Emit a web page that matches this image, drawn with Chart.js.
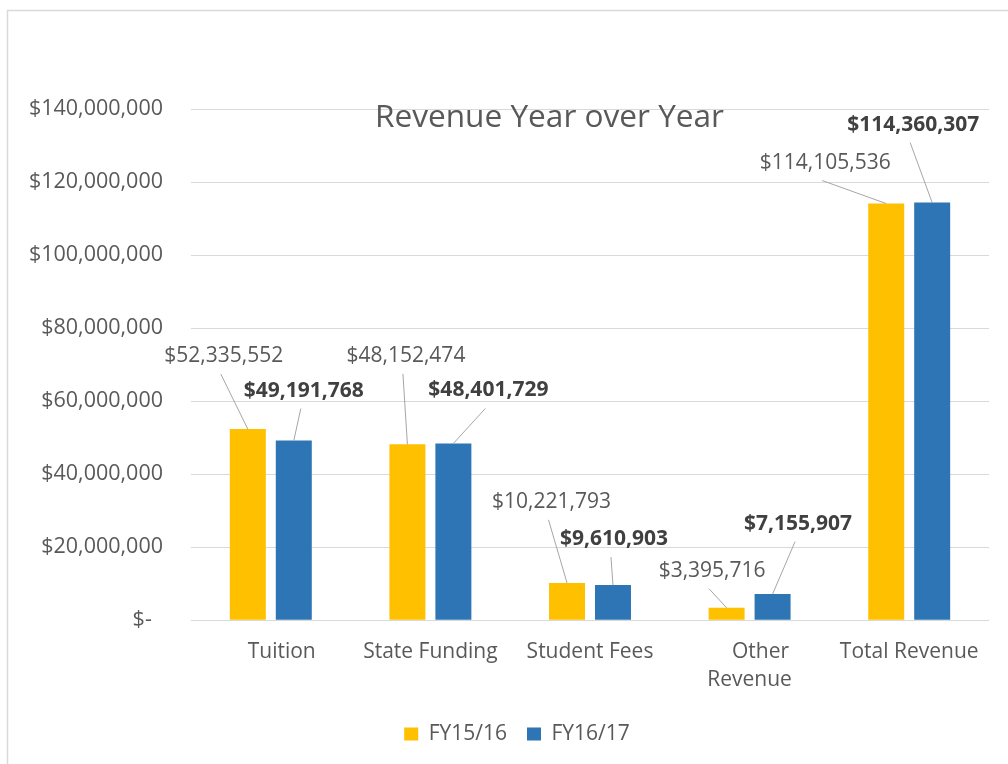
<!DOCTYPE html>
<html>
<head>
<meta charset="utf-8">
<script src="https://cdn.jsdelivr.net/npm/chart.js@4"></script>
<style>
  html, body { margin: 0; padding: 0; background: #fff; overflow: hidden; }
  #wrap { width: 1008px; height: 764px; }
</style>
</head>
<body>
<div id="wrap"><canvas id="revChart" width="1008" height="764"></canvas></div>
<script>
// ── Data ────────────────────────────────────────────────────────────────
const categories  = ['    Tuition', 'State Funding', 'Student Fees', ['    Other', 'Revenue'], 'Total Revenue'];
const seriesNames = ['FY15/16', 'FY16/17'];
const fy1516      = [52335552, 48152474, 10221793, 3395716, 114105536];
const fy1617      = [49191768, 48401729, 9610903, 7155907, 114360307];
const yMax        = 140000000;
const yStep       = 20000000;

// label placement (px from bar top centre), one row per series
const labelOffsets = [
  [[-24, -73], [-1.5, -88.5], [-15.5, -81], [-14.5, -37], [-61, -41]],
  [[10, -50],  [35, -53],     [1, -46],     [25.5, -70.5], [-19, -78]]
];

const FONT = '"Open Sans", "Liberation Sans", sans-serif';
const fmt  = v => '$' + Math.round(v).toLocaleString('en-US');

Chart.defaults.font.family = FONT;
Chart.defaults.color = '#595959';

// ── Plugins ─────────────────────────────────────────────────────────────
const frameBorder = {
  id: 'frameBorder',
  afterLayout(chart) {
    // legend sits centred under the plot, not under the whole canvas
    if (chart.legend) chart.legend.left = 45;
  },
  beforeDraw(chart) {
    const ctx = chart.ctx;
    ctx.save();
    ctx.fillStyle = '#fff';
    ctx.fillRect(0, 0, chart.width, chart.height);
    ctx.strokeStyle = '#d9d9d9';
    ctx.lineWidth = 1.5;
    ctx.strokeRect(7.5, 10.5, chart.width + 20, chart.height + 20);
    ctx.restore();
  }
};

const chartTitle = {
  id: 'chartTitle',
  afterDatasetsDraw(chart) {
    const ctx = chart.ctx;
    ctx.save();
    ctx.font = `31.6px ${FONT}`;
    ctx.fillStyle = '#595959';
    ctx.textAlign = 'center';
    ctx.textBaseline = 'alphabetic';
    ctx.fillText('Revenue Year over Year', 549.5, 127);
    ctx.restore();
  }
};

const leaderLabels = {
  id: 'leaderLabels',
  afterDatasetsDraw(chart) {
    const ctx = chart.ctx;
    chart.data.datasets.forEach((ds, di) => {
      const meta = chart.getDatasetMeta(di);
      const bold = di === 1;
      meta.data.forEach((bar, i) => {
        const [dx, dy] = labelOffsets[di][i];
        const cx = bar.x + dx, cy = bar.y + dy;
        ctx.save();
        ctx.strokeStyle = '#a6a6a6';
        ctx.lineWidth = 1;
        ctx.beginPath();
        ctx.moveTo(cx - 3, cy + 18);
        ctx.lineTo(bar.x, bar.y);
        ctx.stroke();
        ctx.font = `${bold ? 'bold ' : ''}21px ${FONT}`;
        ctx.fillStyle = bold ? '#404040' : '#595959';
        ctx.textAlign = 'center';
        ctx.textBaseline = 'middle';
        ctx.fillText(fmt(ds.data[i]), cx, cy);
        ctx.restore();
      });
    });
  }
};

// ── Chart ───────────────────────────────────────────────────────────────
new Chart(document.getElementById('revChart'), {
  type: 'bar',
  data: {
    labels: categories,
    datasets: [
      { label: seriesNames[0], data: fy1516, backgroundColor: '#ffc000' },
      { label: seriesNames[1], data: fy1617, backgroundColor: '#2e75b6' }
    ]
  },
  options: {
    responsive: false, animation: false,
    datasets: { bar: { categoryPercentage: 0.576, barPercentage: 0.783 } },
    layout: { padding: { left: 0, right: 19, top: 109, bottom: 9.4 } },
    plugins: {
      legend: {
        position: 'bottom',
        labels: { boxWidth: 14, boxHeight: 13, padding: 20, color: '#595959', font: { size: 21 } }
      },
      tooltip: { enabled: false },
      title: { display: false }
    },
    scales: {
      x: {
        afterFit: s => { s.height = 83.4; },
        grid: { display: false }, border: { display: false },
        ticks: { color: '#595959', padding: 10, maxRotation: 0, autoSkip: false,
                 font: { size: 21, lineHeight: 1.333 } }
      },
      y: {
        min: 0, max: yMax,
        afterFit: s => { s.width = 191; },
        grid: { color: '#d9d9d9', drawTicks: false },
        border: { display: false },
        ticks: { stepSize: yStep, padding: 28, color: '#595959', font: { size: 21.5 },
                 callback: v => v === 0 ? '$-  ' : fmt(v) }
      }
    }
  },
  plugins: [frameBorder, chartTitle, leaderLabels]
});
</script>
</body>
</html>
